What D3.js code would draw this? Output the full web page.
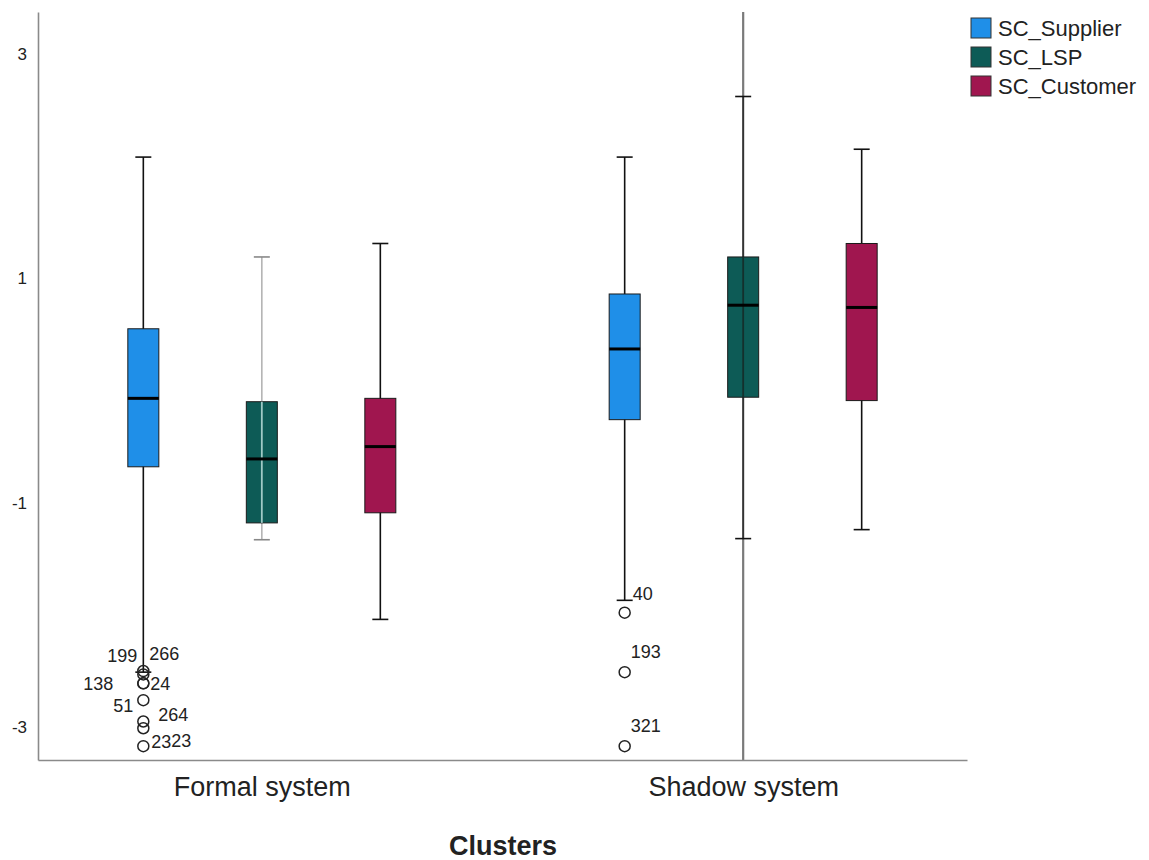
<!DOCTYPE html>
<html>
<head>
<meta charset="utf-8">
<script src="https://cdn.jsdelivr.net/npm/d3@7"></script>
<style>
  body { margin: 0; background: #fff; }
  #chart { width: 1149px; height: 860px; }
  text { font-family: Arial, "Liberation Sans", sans-serif; fill: #222; }
</style>
</head>
<body>
<div id="chart"></div>
<script>
var clusters = ["Formal system", "Shadow system"];
var series = ["SC_Supplier", "SC_LSP", "SC_Customer"];
var seriesColors = ["#1F8FE8", "#0D5B56", "#A0164F"];

// [lower whisker, Q1, median, Q3, upper whisker] per cluster
var supplierStats = [[-2.51, -0.68, -0.07, 0.55, 2.08], [-1.87, -0.26, 0.37, 0.86, 2.08]];
var lspStats      = [[-1.33, -1.18, -0.61, -0.10, 1.19], [-1.32, -0.06, 0.76, 1.19, 2.62]];
var customerStats = [[-2.04, -1.09, -0.50, -0.07, 1.31], [-1.24, -0.09, 0.74, 1.31, 2.15]];

// outliers of SC_Supplier: cluster, value, case id
var outlierCluster = ["Formal system", "Formal system", "Formal system", "Formal system", "Formal system", "Formal system", "Formal system", "Formal system", "Shadow system", "Shadow system", "Shadow system"];
var outlierValues  = [-2.50, -2.53, -2.61, -2.61, -2.76, -2.95, -3.01, -3.17, -1.98, -2.51, -3.17];
var outlierIds     = ["199", "266", "138", "24", "51", "264", "23", "23", "40", "193", "321"];

var yTicks = [-3, -1, 1, 3];

// label nudges so the case numbers don't overlap (dx, dy, anchor)
var labelNudge = [[-6, -15, "end"], [6, -21, "start"], [-30, 0, "end"], [7, 0, "start"],
    [-10, 6, "end"], [15, -7, "start"], [8, 13, "start"], [28, -5, "start"],
    [8, -19, "start"], [6, -20, "start"], [6, -20, "start"]];

var allStats = [supplierStats, lspStats, customerStats];

var chartDiv = document.getElementById("chart");
var width = 1149, height = 860;

var svg = d3.select(chartDiv).append("svg")
    .attr("width", width)
    .attr("height", height);

var plot = { left: 38, right: 967, top: 12, bottom: 760 };

var x = d3.scalePoint()
    .domain(clusters)
    .range([plot.left, plot.right])
    .padding(0.465);

var xSub = d3.scalePoint()
    .domain(series)
    .range([-118.5, 118.5]);

var y = d3.scaleLinear()
    .domain([-3.293, 3.373])
    .range([plot.bottom, plot.top]);

var color = d3.scaleOrdinal().domain(series).range(seriesColors);

var boxW = 31, capW = 16;

// flatten to one record per box
var boxes = [];
series.forEach(function(s, si) {
    clusters.forEach(function(c, ci) {
        var st = allStats[si][ci];
        boxes.push({ series: s, cluster: c, lo: st[0], q1: st[1], med: st[2], q3: st[3], hi: st[4] });
    });
});

// shadow LSP has a line running across the whole plot height
var lspShadowX = x("Shadow system") + xSub("SC_LSP");
svg.append("line")
    .attr("x1", lspShadowX).attr("x2", lspShadowX)
    .attr("y1", plot.top).attr("y2", plot.bottom)
    .attr("stroke", "#7a7a7a")
    .attr("stroke-width", 2.2);

var g = svg.append("g");

var boxG = g.selectAll("g.box")
    .data(boxes)
    .enter().append("g")
    .attr("class", "box")
    .attr("transform", function(d) { return "translate(" + (x(d.cluster) + xSub(d.series)) + ",0)"; });

function whiskerColor(d) {
    if (d.series != "SC_LSP") return "#111";
    return d.cluster == "Formal system" ? "#b4b4b4" : "#333";
}

boxG.append("line")
    .attr("class", "whisker")
    .attr("x1", 0).attr("x2", 0)
    .attr("y1", function(d) { return y(d.hi); })
    .attr("y2", function(d) { return y(d.lo); })
    .attr("stroke", whiskerColor)
    .attr("stroke-width", 1.6);

boxG.selectAll("line.cap")
    .data(function(d) { return [d, d].map(function(e, i) { return { v: i ? e.lo : e.hi, d: e }; }); })
    .enter().append("line")
    .attr("class", "cap")
    .attr("x1", -capW / 2).attr("x2", capW / 2)
    .attr("y1", function(c) { return y(c.v); })
    .attr("y2", function(c) { return y(c.v); })
    .attr("stroke", function(c) { return c.d.series == "SC_LSP" && c.d.cluster == "Formal system" ? "#888" : "#111"; })
    .attr("stroke-width", 1.6);

boxG.append("rect")
    .attr("x", -boxW / 2)
    .attr("width", boxW)
    .attr("y", function(d) { return y(d.q3); })
    .attr("height", function(d) { return y(d.q1) - y(d.q3); })
    .attr("fill", function(d) { return color(d.series); })
    .attr("stroke", "#1b1b1b")
    .attr("stroke-width", 1);

// LSP whiskers show through the box
boxG.filter(function(d) { return d.series == "SC_LSP"; })
    .append("line")
    .attr("x1", 0).attr("x2", 0)
    .attr("y1", function(d) { return y(d.q3); })
    .attr("y2", function(d) { return y(d.q1); })
    .attr("stroke", function(d) { return d.cluster == "Formal system" ? "#9fc9c6" : "#14302d"; })
    .attr("stroke-width", 1.8);

boxG.append("line")
    .attr("x1", -boxW / 2).attr("x2", boxW / 2)
    .attr("y1", function(d) { return y(d.med); })
    .attr("y2", function(d) { return y(d.med); })
    .attr("stroke", "#000")
    .attr("stroke-width", 3);

// outliers
var outliers = outlierValues.map(function(v, i) {
    return { cluster: outlierCluster[i], value: v, id: outlierIds[i], nudge: labelNudge[i] };
});
var supX = function(d) { return x(d.cluster) + xSub("SC_Supplier"); };

g.selectAll("circle.out")
    .data(outliers)
    .enter().append("circle")
    .attr("class", "out")
    .attr("cx", supX)
    .attr("cy", function(d) { return y(d.value); })
    .attr("r", 5.5)
    .attr("fill", "none")
    .attr("stroke", "#222")
    .attr("stroke-width", 1.5);

g.selectAll("text.outlbl")
    .data(outliers)
    .enter().append("text")
    .attr("class", "outlbl")
    .attr("x", function(d) { return supX(d) + d.nudge[0]; })
    .attr("y", function(d) { return y(d.value) + d.nudge[1]; })
    .attr("dy", "0.35em")
    .attr("text-anchor", function(d) { return d.nudge[2]; })
    .style("font-size", "18px")
    .text(function(d) { return d.id; });

// axes
var yAxis = svg.append("g")
    .attr("transform", "translate(" + plot.left + ",0)")
    .call(d3.axisLeft(y).tickValues(yTicks).tickSize(0).tickSizeOuter(0).tickPadding(11)
        .tickFormat(function(d) { return String(d); }));
yAxis.select(".domain").attr("stroke", "#8a8a8a").attr("stroke-width", 1.6);
yAxis.selectAll("text").style("font-size", "17px").attr("fill", "#222");

var xAxis = svg.append("g")
    .attr("transform", "translate(0," + plot.bottom + ")")
    .call(d3.axisBottom(x).tickSize(0).tickSizeOuter(0).tickPadding(17));
xAxis.select(".domain").attr("stroke", "#8a8a8a").attr("stroke-width", 1.6);
xAxis.selectAll("text").style("font-size", "27px").attr("fill", "#222");

svg.append("text")
    .attr("x", 503)
    .attr("y", 855)
    .attr("text-anchor", "middle")
    .style("font-size", "27px")
    .style("font-weight", "bold")
    .attr("fill", "#111")
    .text("Clusters");

// legend
var legend = svg.append("g").attr("transform", "translate(971,18)");
var li = legend.selectAll("g")
    .data(series)
    .enter().append("g")
    .attr("transform", function(d, i) { return "translate(0," + (i * 29) + ")"; });
li.append("rect")
    .attr("width", 20).attr("height", 20)
    .attr("fill", function(d) { return color(d); })
    .attr("stroke", "#333")
    .attr("stroke-width", 1);
li.append("text")
    .attr("x", 27)
    .attr("y", 10)
    .attr("dy", "0.36em")
    .style("font-size", "22px")
    .text(function(d) { return d; });
</script>
</body>
</html>
